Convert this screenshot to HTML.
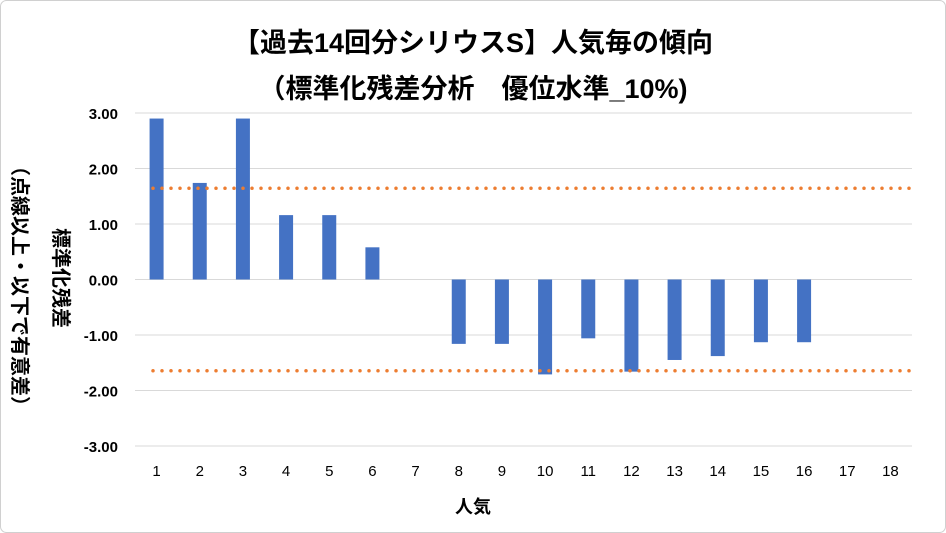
<!DOCTYPE html>
<html><head><meta charset="utf-8"><style>
body{margin:0;background:#fff;}
svg{display:block;font-family:"Liberation Sans","Noto Sans CJK JP",sans-serif;}
</style></head><body>
<svg id="chart" width="946" height="533">
<rect x="0.5" y="0.5" width="945" height="532" rx="6" fill="#fff" stroke="#d0d0d0"/>
<text x="473" y="52" text-anchor="middle" font-size="27" font-weight="bold">【過去14回分シリウスS】人気毎の傾向</text>
<text x="473" y="98" text-anchor="middle" font-size="27" font-weight="bold">（標準化残差分析　優位水準_10%)</text>
<text transform="translate(13,156) rotate(90)" font-size="20" font-weight="bold">（点線以上・以下で有意差）</text>
<text transform="translate(54,228) rotate(90)" font-size="20" font-weight="bold">標準化残差</text>
<text x="473" y="513" text-anchor="middle" font-size="18" font-weight="bold">人気</text>
<g id="grid"></g><g id="bars"></g><g id="lines"></g><g id="xlabels"></g><g id="ylabels"></g>
</svg>
<script>
const categories=["1","2","3","4","5","6","7","8","9","10","11","12","13","14","15","16","17","18"];
const residuals=[2.90,1.74,2.90,1.16,1.16,0.58,0,-1.16,-1.16,-1.71,-1.06,-1.66,-1.45,-1.38,-1.13,-1.13,0,0];
const yTicks=[3,2,1,0,-1,-2,-3];
const yTickLabels=["3.00","2.00","1.00","0.00","-1.00","-2.00","-3.00"];
const thresholds=[1.645,-1.645];
const NS="http://www.w3.org/2000/svg";
const x0=135,x1=912,yTop=113,yBot=446;
const band=(x1-x0)/categories.length;
const xs=i=>x0+band*(i+0.5);
const ys=v=>yTop+(3-v)*(yBot-yTop)/6;
function mk(t,a,p){const e=document.createElementNS(NS,t);for(const k in a)e.setAttribute(k,a[k]);document.getElementById(p).appendChild(e);return e;}
yTicks.forEach((v,i)=>{
 const g=mk("line",{x1:x0,x2:x1,y1:ys(v),y2:ys(v),stroke:"#d9d9d9","stroke-width":1},"grid");
 
 
 const t=mk("text",{x:118,y:ys(v)+6,"text-anchor":"end","font-size":15,"font-weight":"bold"},"ylabels");
 t.textContent=yTickLabels[i];
 
 
});
residuals.forEach((v,i)=>{
 const y=Math.min(ys(v),ys(0)),h=Math.abs(ys(v)-ys(0));
 const b=mk("rect",{x:xs(i)-7,y:y,width:14,height:h,fill:"#4472c4"},"bars");
 
 
 const t=mk("text",{x:xs(i),y:476,"text-anchor":"middle","font-size":15},"xlabels");
 t.textContent=categories[i];
 
 
});
thresholds.forEach(v=>{
 const l=mk("line",{x1:x0+18,x2:x1,y1:ys(v),y2:ys(v),stroke:"#ed7d31","stroke-width":3.5,"stroke-linecap":"round","stroke-dasharray":"0 9"},"lines");
 
 
});
</script>
</body></html>
